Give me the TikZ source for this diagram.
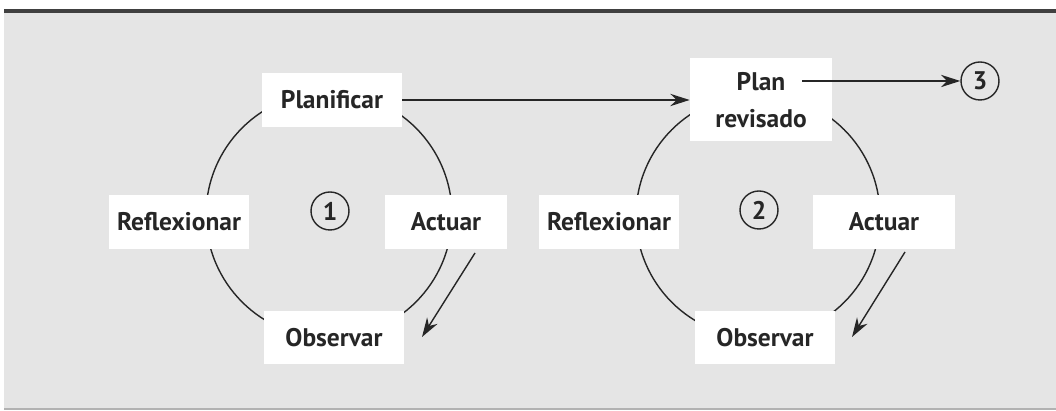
\documentclass[tikz,border=0pt]{standalone}
\usepackage{fontspec}
\setmainfont{PT Sans}
\usetikzlibrary{arrows.meta}

\definecolor{panel}{gray}{0.9}
\definecolor{rulegray}{gray}{0.25}
\definecolor{ink}{gray}{0.15}

\begin{document}
\begin{tikzpicture}[
    x=0.02cm, y=0.02cm,
    > = {Stealth[length=11pt, width=7pt]},
    box/.style={fill=white, text=ink, minimum width=2.8cm, minimum height=1.08cm,
        inner sep=0pt, align=center, font=\bfseries\fontsize{14.5}{21}\selectfont},
    num/.style={circle, draw=ink, line width=0.8pt, minimum size=0.76cm,
        inner sep=0pt, text=ink, font=\bfseries\fontsize{14.5}{16}\selectfont},
    loop/.style={draw=ink, line width=0.8pt},
    flow/.style={->, draw=ink, line width=0.8pt}]
    \useasboundingbox (0,0) rectangle (1056,411);
    % Panel
    \fill [panel] (4,3) rectangle (1056,398);
    \draw [rulegray, line width=2pt] (4,400) -- (1056,400);
    \draw [gray!60, line width=0.6pt] (4,2) -- (1056,2);

    % Cycle 1
    \draw [loop] (329,196) circle (2.46cm);
    \node [box] (plan1) at (332,311) {Planificar};
    \node [box] (refl1) at (179,189) {Reflexionar};
    \node [box, minimum width=2.46cm] (act1) at (446,189) {Actuar};
    \node [box, minimum height=1.06cm] (obs1) at (334,73) {Observar};
    \node [num] (n1) at (330,200) {1};
    %% Arrow
    \coordinate (a1from) at (475,158);
    \coordinate (a1to) at (422,74);
    \draw [flow] (a1from) -- (a1to);

    % Cycle 2
    \draw [loop] (758,195) circle (2.44cm);
    \node [box, minimum width=2.84cm, minimum height=1.66cm] (plan2) at (761,311)
        {Plan\\revisado};
    \node [box] (refl2) at (609,189) {Reflexionar};
    \node [box, minimum width=2.84cm] (act2) at (884,189) {Actuar};
    \node [box, minimum height=1.06cm] (obs2) at (765,73) {Observar};
    \node [num] (n2) at (759,201) {2};
    %% Arrow
    \coordinate (a2from) at (905,159);
    \coordinate (a2to) at (852,74);
    \draw [flow] (a2from) -- (a2to);

    % Links
    \node [num] (n3) at (980,330) {3};
    \coordinate (p2out) at (802,330);
    \draw [flow] (plan1) -- (plan2);
    \draw [flow] (p2out) -- (n3);
\end{tikzpicture}
\end{document}
